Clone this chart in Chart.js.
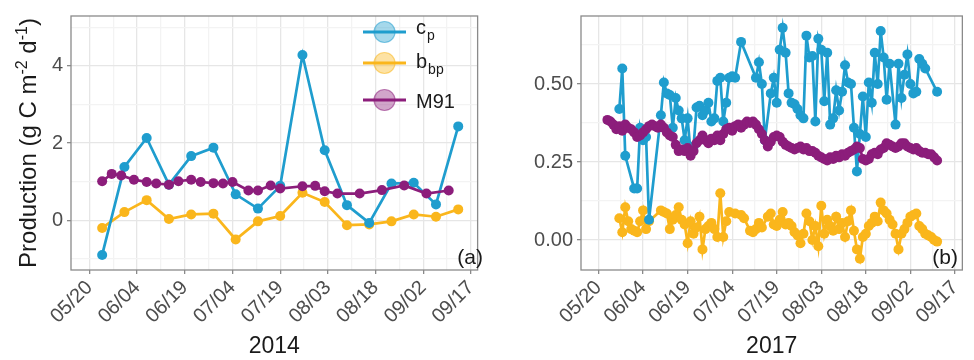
<!DOCTYPE html>
<html>
<head>
<meta charset="utf-8">
<script src="https://cdn.jsdelivr.net/npm/chart.js@4.4.1/dist/chart.umd.min.js"></script>
<style>
  html, body { margin: 0; padding: 0; background: #fff; }
  #wrap { position: relative; width: 974px; height: 360px; overflow: hidden; }
  #chartA { position: absolute; left: 0; top: 0; }
  #chartB { position: absolute; left: 490px; top: 0; }
</style>
</head>
<body>
<div id="wrap">
  <canvas id="chartA" width="490" height="360"></canvas>
  <canvas id="chartB" width="484" height="360"></canvas>
</div>
<script>
// x values are days after 05/20
const DATE_LABELS = ['05/20', '06/04', '06/19', '07/04', '07/19', '08/03', '08/18', '09/02', '09/17'];
const X_TICKS = [0, 7.5, 15, 22.5, 30, 37.5, 45, 52.5, 60, 67.5, 75, 82.5, 90, 97.5, 105, 112.5, 120];
const Y_TICKS_2014 = [-1, 0, 1, 2, 3, 4, 5];
const Y_TICKS_2017 = [0, 0.125, 0.25, 0.375, 0.5, 0.625];

// 2014 (weekly cp / bbp, M91 every few days)
const DAYS_2014 = [4, 11, 18, 25, 32, 39, 46, 53, 60, 67, 74, 81, 88, 95, 102, 109, 116];
const CP_2014   = [-0.90, 1.38, 2.13, 0.92, 1.66, 1.88, 0.67, 0.30, 0.89, 4.28, 1.81, 0.39, -0.07, 0.95, 0.97, 0.41, 2.43];
const BBP_2014  = [-0.20, 0.21, 0.52, 0.03, 0.15, 0.17, -0.50, -0.03, 0.11, 0.71, 0.47, -0.13, -0.11, -0.03, 0.15, 0.09, 0.28];
const M91_DAYS_2014 = [4, 7, 10, 14, 18, 21, 25, 28, 32, 35, 39, 42, 45, 50, 53, 57, 60, 67, 71, 74, 78, 85, 92, 99, 106, 113];
const M91_2014      = [1.01, 1.20, 1.16, 1.05, 0.99, 0.95, 0.92, 1.01, 1.05, 0.99, 0.96, 0.95, 0.99, 0.77, 0.77, 0.90, 0.82, 0.88, 0.89, 0.75, 0.69, 0.69, 0.78, 0.90, 0.69, 0.77];

// 2017 (near daily)
const CP_DAYS_2017 = [7, 8, 9, 12, 13, 14, 15, 16, 17,
  21, 22, 23, 24, 25, 26, 27, 28, 29, 30, 31, 32, 33, 34, 35, 36, 37, 38, 39, 40, 41, 42, 43, 44, 45, 46,
  48, 53, 54, 55, 56,
  58, 59, 60, 61, 62, 63, 64, 65, 66, 67, 68, 69, 70, 71, 72, 73, 74, 75, 76, 77, 78, 79, 80,
  81, 82, 83, 84, 85, 86, 87, 88, 89, 90, 91, 92, 93, 94, 95, 96, 97, 98,
  100, 101, 102, 103, 104, 105, 106, 107, 108, 109, 110, 114];
const CP_2017 = [0.42, 0.55, 0.27, 0.165, 0.165, 0.36, 0.32, 0.33, 0.065,
  0.40, 0.505, 0.47, 0.465, 0.36, 0.455, 0.415, 0.39, 0.32, 0.39, 0.28, 0.30, 0.425, 0.43, 0.40, 0.415, 0.44, 0.38, 0.39, 0.51, 0.52, 0.38, 0.44, 0.52, 0.525, 0.52,
  0.635, 0.52, 0.57, 0.50, 0.32,
  0.47, 0.52, 0.44, 0.61, 0.68, 0.60, 0.47, 0.44, 0.435, 0.42, 0.40, 0.39, 0.655, 0.585, 0.59, 0.38, 0.645, 0.61, 0.445, 0.60, 0.37, 0.39, 0.48,
  0.415, 0.475, 0.56, 0.505, 0.50, 0.36, 0.22, 0.34, 0.46, 0.33, 0.505, 0.44, 0.60, 0.50, 0.67, 0.585, 0.45, 0.565,
  0.37, 0.565, 0.455, 0.53, 0.595, 0.50, 0.47, 0.475, 0.58, 0.565, 0.55, 0.475];

const BBP_DAYS_2017 = [7, 8, 9, 10, 11, 12, 13, 14, 15, 16, 17,
  21, 22, 23, 24, 25, 26, 27, 28, 29, 30, 31, 32, 33, 34, 35, 36, 37, 38, 39, 40, 41, 42, 43, 44,
  46, 48, 49, 51, 52, 53, 54, 55,
  57, 58, 59, 60, 61, 62, 63, 64, 65, 66, 67, 68, 69, 70, 71, 72, 73, 74, 75, 76, 77, 78, 79, 80,
  81, 82, 83, 84, 85, 86, 87, 88, 89, 90, 91, 92, 93, 94, 95, 96, 97, 98, 99, 100,
  101, 102, 103, 104, 105, 106, 107, 108, 109, 110, 111, 112, 113, 114];
const BBP_2017 = [0.07, 0.025, 0.105, 0.06, 0.035, 0.03, 0.025, 0.06, 0.095, 0.035, 0.06,
  0.095, 0.09, 0.085, 0.035, 0.065, 0.08, 0.105, 0.065, 0.05, -0.01, 0.06, 0.02, 0.04, 0.075, -0.03, 0.035, 0.045, 0.055, 0.035, 0.01, 0.15, 0.01, 0.06, 0.09,
  0.085, 0.08, 0.07, 0.03, 0.025, 0.035, 0.055, 0.04,
  0.075, 0.085, 0.05, 0.045, 0.065, 0.09, 0.05, 0.055, 0.045, 0.025, 0.015, -0.01, 0.02, 0.085, 0.06, 0.0, 0.045, -0.02, 0.11, 0.02, 0.065, 0.045, 0.03, 0.075,
  0.035, 0.055, 0.01, 0.06, 0.095, 0.03, -0.03, -0.06, 0.01, 0.02, 0.045, 0.055, 0.075, 0.06, 0.12, 0.095, 0.085, 0.065, 0.05, 0.02,
  -0.03, 0.02, 0.035, 0.055, 0.075, 0.08, 0.085, 0.045, 0.035, 0.02, 0.015, 0.01, 0.0, -0.005];

const M91_DAYS_2017 = [3, 4, 5, 6, 7, 8, 9, 10, 11, 12, 13, 14, 15, 16, 17, 18, 19, 20, 21, 22,
  23, 24, 25, 26, 27, 28, 29, 30, 31, 32, 33, 34, 35, 36, 37, 38, 39, 40, 41, 42,
  43, 44, 45, 46, 47, 48, 49, 50, 51, 52, 53, 54, 55, 56, 57, 58, 59, 60, 61, 62,
  63, 64, 65, 66, 67, 68, 69, 70, 71, 72, 73, 74, 75, 76, 77, 78, 79, 80, 81, 82,
  83, 84, 85, 86, 87, 88, 89, 90, 91, 92, 93, 94, 95, 96, 97, 98, 99, 100, 101, 102,
  103, 104, 105, 106, 107, 108, 109, 110, 111, 112, 113, 114];
const M91_2017 = [0.385, 0.38, 0.37, 0.355, 0.365, 0.35, 0.37, 0.36, 0.355, 0.345, 0.33, 0.335, 0.345, 0.355, 0.365, 0.37, 0.365, 0.36, 0.37, 0.36,
  0.345, 0.335, 0.33, 0.305, 0.285, 0.29, 0.285, 0.295, 0.27, 0.285, 0.31, 0.32, 0.335, 0.32, 0.31, 0.325, 0.32, 0.335, 0.32, 0.34,
  0.355, 0.36, 0.35, 0.365, 0.37, 0.36, 0.37, 0.38, 0.375, 0.38, 0.37, 0.355, 0.34, 0.32, 0.30, 0.315, 0.33, 0.335, 0.33, 0.315,
  0.305, 0.30, 0.295, 0.29, 0.295, 0.30, 0.29, 0.295, 0.285, 0.285, 0.28, 0.27, 0.265, 0.26, 0.255, 0.265, 0.26, 0.27, 0.265, 0.275,
  0.27, 0.28, 0.285, 0.29, 0.30, 0.295, 0.26, 0.255, 0.26, 0.275, 0.28, 0.275, 0.29, 0.295, 0.31, 0.305, 0.30, 0.295, 0.30, 0.31,
  0.31, 0.30, 0.295, 0.29, 0.295, 0.285, 0.28, 0.28, 0.275, 0.275, 0.265, 0.255];

const FONT = "'Liberation Sans', Arial, Helvetica, sans-serif";
const COLORS = { cp: '#1F9DCE', bbp: '#FAB61C', m91: '#8C1D7B' };
const TICK_TEXT = '#4D4D4D';
const GRID_MAJOR = '#E6E6E6';
const GRID_MINOR = '#F3F3F3';
const FRAME = '#8A8A8A';

const pts = (days, vals) => days.map((d, i) => ({ x: d, y: vals[i] }));

function hexAlpha(hex, a) {
  const n = parseInt(hex.slice(1), 16);
  return `rgba(${(n >> 16) & 255},${(n >> 8) & 255},${n & 255},${a})`;
}

function series(label, color, days, vals, order) {
  return {
    label, order,
    data: pts(days, vals),
    borderColor: color,
    backgroundColor: color,
    borderWidth: 2.7,
    pointRadius: 5,
    pointBorderWidth: 0,
    pointBackgroundColor: color,
    tension: 0
  };
}

const isMajorX = v => v % 15 === 0;

// frame around the plotting panel, the (a)/(b) tag and the y title with real superscripts
const panelFrame = {
  id: 'panelFrame',
  afterDraw(chart, args, opts) {
    const { ctx, chartArea: a } = chart;
    ctx.save();
    ctx.strokeStyle = FRAME;
    ctx.lineWidth = 1.3;
    ctx.strokeRect(a.left, a.top, a.right - a.left, a.bottom - a.top);
    ctx.fillStyle = '#1A1A1A';
    ctx.font = `21px ${FONT}`;
    ctx.textAlign = 'right';
    ctx.textBaseline = 'alphabetic';
    ctx.fillText(opts.tag, opts.tagX, a.bottom - 6);

    if (opts.yTitle) {
      const parts = opts.yTitle;
      const fontOf = p => p.sup ? `16px ${FONT}` : `24px ${FONT}`;
      let total = 0;
      parts.forEach(p => { ctx.font = fontOf(p); total += ctx.measureText(p.text).width; });
      ctx.translate(opts.yTitleX, (a.top + a.bottom) / 2);
      ctx.rotate(-Math.PI / 2);
      ctx.textAlign = 'left';
      let x = -total / 2;
      parts.forEach(p => {
        ctx.font = fontOf(p);
        ctx.fillText(p.text, x, p.sup ? -9 : 0);
        x += ctx.measureText(p.text).width;
      });
    }
    ctx.restore();
  }
};

// ggplot-style key with subscripted labels
const keyBox = {
  id: 'keyBox',
  afterDraw(chart, args, opts) {
    if (!opts.items) return;
    const ctx = chart.ctx;
    ctx.save();
    opts.items.forEach((it, i) => {
      const y = opts.rows[i];
      ctx.strokeStyle = it.color;
      ctx.lineWidth = 3;
      ctx.beginPath();
      ctx.moveTo(opts.x, y);
      ctx.lineTo(opts.x + 43, y);
      ctx.stroke();
      ctx.beginPath();
      ctx.arc(opts.x + 21.5, y, 10.5, 0, Math.PI * 2);
      ctx.fillStyle = hexAlpha(it.color, 0.4);
      ctx.fill();
      ctx.lineWidth = 1.2;
      ctx.strokeStyle = hexAlpha(it.color, 0.55);
      ctx.stroke();

      ctx.fillStyle = '#1A1A1A';
      ctx.textAlign = 'left';
      ctx.textBaseline = 'alphabetic';
      ctx.font = `20px ${FONT}`;
      const tx = opts.x + 53;
      ctx.fillText(it.main, tx, y + it.base);
      if (it.sub) {
        const w = ctx.measureText(it.main).width;
        ctx.font = `14px ${FONT}`;
        ctx.fillText(it.sub, tx + w + 1, y + it.base + 6);
      }
    });
    ctx.restore();
  }
};

function panelOptions(cfg) {
  return {
    responsive: false,
    animation: false,
    layout: { padding: { top: 15, right: cfg.padRight, left: 0, bottom: 0 } },
    plugins: {
      legend: { display: false },
      tooltip: { enabled: false },
      panelFrame: { tag: cfg.tag, tagX: cfg.tagX, yTitle: cfg.yTitle, yTitleX: 36 },
      keyBox: cfg.key || {}
    },
    scales: {
      x: {
        type: 'linear',
        min: cfg.xMin,
        max: cfg.xMax,
        afterBuildTicks: s => { s.ticks = X_TICKS.map(v => ({ value: v })); },
        afterFit: s => { s.height = 90; },
        border: { display: false },
        grid: {
          color: c => isMajorX(c.tick.value) ? GRID_MAJOR : GRID_MINOR,
          tickColor: c => isMajorX(c.tick.value) ? FRAME : 'rgba(0,0,0,0)',
          lineWidth: 1.3,
          tickLength: 4,
          drawTicks: true
        },
        ticks: {
          autoSkip: false,
          minRotation: 45,
          maxRotation: 45,
          padding: 2,
          color: TICK_TEXT,
          font: { family: FONT, size: 20 },
          callback: v => isMajorX(v) ? DATE_LABELS[v / 15] : ''
        },
        title: {
          display: true,
          text: cfg.year,
          color: '#1A1A1A',
          font: { family: FONT, size: 23 },
          padding: { top: 0, bottom: 0 }
        }
      },
      y: {
        min: cfg.yMin,
        max: cfg.yMax,
        afterBuildTicks: s => { s.ticks = cfg.yTicks.map(v => ({ value: v })); },
        afterFit: s => { s.width = cfg.yWidth; },
        border: { display: false },
        grid: {
          color: c => cfg.isMajorY(c.tick.value) ? GRID_MAJOR : GRID_MINOR,
          tickColor: c => cfg.isMajorY(c.tick.value) ? FRAME : 'rgba(0,0,0,0)',
          lineWidth: 1.3,
          tickLength: 4,
          drawTicks: true
        },
        ticks: {
          padding: 4,
          color: TICK_TEXT,
          font: { family: FONT, size: 20 },
          callback: v => cfg.isMajorY(v) ? cfg.fmtY(v) : ''
        },
        title: { display: false }
      }
    }
  };
}

new Chart(document.getElementById('chartA'), {
  type: 'line',
  data: {
    datasets: [
      series('cp', COLORS.cp, DAYS_2014, CP_2014, 1),
      series('bbp', COLORS.bbp, DAYS_2014, BBP_2014, 2),
      series('M91', COLORS.m91, M91_DAYS_2014, M91_2014, 0)
    ]
  },
  options: panelOptions({
    tag: '(a)', tagX: 483, padRight: 1, year: '2014',
    xMin: -5.8, xMax: 122.1,
    yMin: -1.29, yMax: 5.29, yTicks: Y_TICKS_2014, yWidth: 71,
    isMajorY: v => v % 2 === 0,
    fmtY: v => String(v),
    yTitle: [
      { text: 'Production (g C m' },
      { text: '-2', sup: true },
      { text: ' d' },
      { text: '-1', sup: true },
      { text: ')' }
    ],
    key: {
      x: 363,
      rows: [32, 63, 100],
      items: [
        { main: 'c', sub: 'p', color: COLORS.cp, base: 2 },
        { main: 'b', sub: 'bp', color: COLORS.bbp, base: 5 },
        { main: 'M91', sub: '', color: COLORS.m91, base: 8 }
      ]
    }
  }),
  plugins: [panelFrame, keyBox]
});

new Chart(document.getElementById('chartB'), {
  type: 'line',
  data: {
    datasets: [
      series('cp', COLORS.cp, CP_DAYS_2017, CP_2017, 1),
      series('bbp', COLORS.bbp, BBP_DAYS_2017, BBP_2017, 2),
      series('M91', COLORS.m91, M91_DAYS_2017, M91_2017, 0)
    ]
  },
  options: panelOptions({
    tag: '(b)', tagX: 468, padRight: 3, year: '2017',
    xMin: -5.9, xMax: 122.5,
    yMin: -0.096, yMax: 0.718, yTicks: Y_TICKS_2017, yWidth: 91,
    isMajorY: v => Math.abs(v / 0.25 - Math.round(v / 0.25)) < 1e-6,
    fmtY: v => v.toFixed(2),
    yTitle: null
  }),
  plugins: [panelFrame, keyBox]
});
</script>
</body>
</html>
